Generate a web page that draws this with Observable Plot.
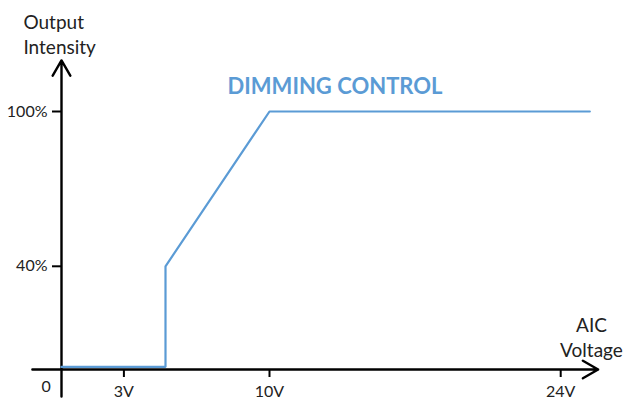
<!DOCTYPE html>
<html>
<head>
<meta charset="utf-8">
<script src="https://cdn.jsdelivr.net/npm/d3@7"></script>
<script src="https://cdn.jsdelivr.net/npm/@observablehq/plot@0.6"></script>
<style>
  html, body { margin: 0; padding: 0; background: #fff; }
  #chart svg { display: block; }
</style>
</head>
<body>
<div id="chart"></div>
<script>
// ---- data ----
const voltage   = [0, 5, 5, 10, 25.4];     // V
const intensity = [1, 1, 40, 100, 100];    // %
const xTicks = [3, 10, 24];
const xTickLabels = ["3V", "10V", "24V"];
const yTicks = [40, 100];
const yTickLabels = ["40%", "100%"];
const originLabel = "0";
const seriesLabel = "DIMMING CONTROL";
const yAxisTitle = "Output\nIntensity";
const xAxisTitle = "AIC\nVoltage";
const xAxisExtent = [-1.4, 25.8];
const yAxisExtent = [-10.5, 119.8];

const blue = "#5B9BD5";
const rows = voltage.map((v, i) => ({v, p: intensity[i]}));

const chart = Plot.plot({
  width: 627,
  height: 401,
  marginLeft: 61,
  marginRight: 66.8,
  marginTop: 111,
  marginBottom: 32,
  x: {domain: [0, 24]},
  y: {domain: [0, 100]},
  style: {fontFamily: "Lato", fontSize: "16px", color: "#222", background: "#fff"},
  marks: [
    Plot.arrow([{x1: xAxisExtent[0], y1: 0, x2: xAxisExtent[1], y2: 0}],
      {x1: "x1", y1: "y1", x2: "x2", y2: "y2", stroke: "#000", strokeWidth: 2.4, headLength: 11, headAngle: 60}),
    Plot.arrow([{x1: 0, y1: yAxisExtent[0], x2: 0, y2: yAxisExtent[1]}],
      {x1: "x1", y1: "y1", x2: "x2", y2: "y2", stroke: "#000", strokeWidth: 2.4, headLength: 11, headAngle: 60}),
    Plot.axisX(xTicks, {
      anchor: "bottom", tickSize: 8, tickPadding: 8, strokeWidth: 2, stroke: "#000",
      tickFormat: d => xTickLabels[xTicks.indexOf(d)], fontSize: 16, fill: "#222", label: null
    }),
    Plot.axisY(yTicks, {
      anchor: "left", tickSize: 9, tickPadding: 5, strokeWidth: 2, stroke: "#000",
      tickFormat: d => yTickLabels[yTicks.indexOf(d)], fontSize: 16, fill: "#222", label: null
    }),
    Plot.text([originLabel], {x: -0.74, y: -6.86, text: d => d, fontSize: 16, fill: "#222", textAnchor: "middle", lineAnchor: "middle"}),
    Plot.line(rows, {x: "v", y: "p", stroke: blue, strokeWidth: 2.2, strokeLinejoin: "miter", curve: "linear"}),
    Plot.text([seriesLabel], {x: 13.15, y: 109.5, text: d => d, fill: blue, fontWeight: "bold", fontSize: 22, textAnchor: "middle", lineAnchor: "middle"}),
    Plot.text([yAxisTitle], {x: -1.83, y: 138.8, text: d => d, fontSize: 19, fill: "#222", textAnchor: "start", lineAnchor: "top", lineHeight: 1.32}),
    Plot.text([xAxisTitle], {x: 25.48, y: 21.6, text: d => d, fontSize: 19, fill: "#222", textAnchor: "middle", lineAnchor: "top", lineHeight: 1.32})
  ]
});
document.getElementById("chart").appendChild(chart);
</script>
</body>
</html>
